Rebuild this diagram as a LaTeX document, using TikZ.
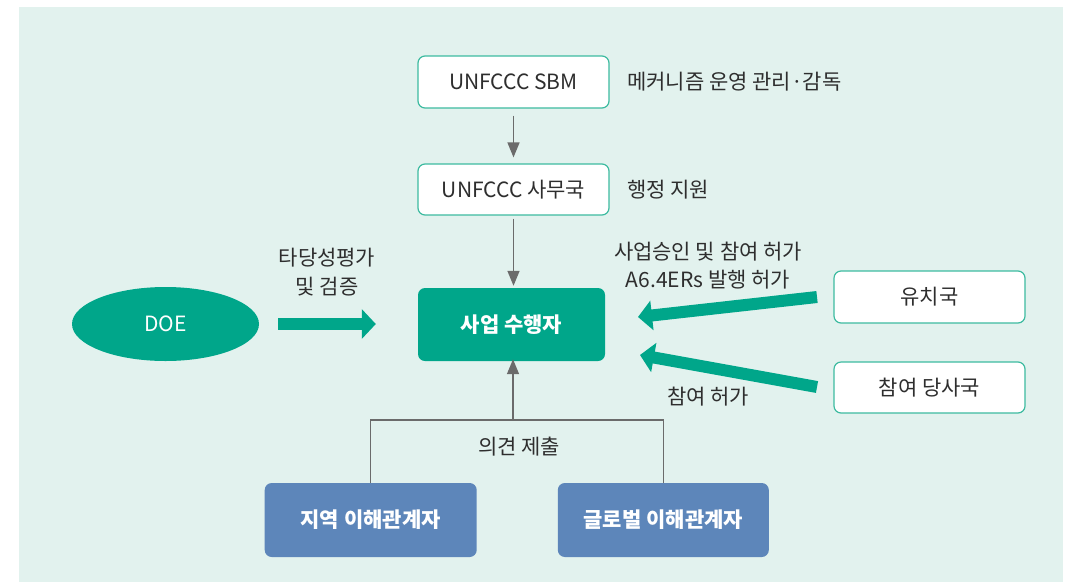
\documentclass[tikz,border=0pt]{standalone}
\usepackage{fontspec}
\setmainfont{Noto Sans CJK KR}
\usetikzlibrary{arrows.meta,shapes.geometric,calc}
\definecolor{bgmint}{HTML}{E2F2EE}
\definecolor{teal}{HTML}{00A68A}
\definecolor{tealline}{HTML}{3DBBA0}
\definecolor{bluebox}{HTML}{5D86BA}
\definecolor{grayline}{HTML}{6B6B6B}
\definecolor{txt}{HTML}{2E2E2E}
\tikzset{
  whitebox/.style={draw=tealline, line width=1.2pt, fill=white, rounded corners=7pt,
    minimum width=191pt, minimum height=52pt, inner sep=0pt, text=txt, font=\fontsize{21}{24}\selectfont},
  greenbox/.style={fill=teal, rounded corners=7pt, minimum width=187pt, minimum height=73pt,
    inner sep=0pt, text=white, font=\fontsize{21}{24}\selectfont\bfseries},
  bluenode/.style={fill=bluebox, rounded corners=7pt, minimum width=211pt, minimum height=74pt,
    inner sep=0pt, text=white, font=\fontsize{21}{24}\selectfont\bfseries},
  doenode/.style={ellipse, fill=teal, minimum width=187pt, minimum height=74pt, inner sep=0pt,
    text=white, font=\fontsize{21}{24}\selectfont},
  lbl/.style={text=txt, font=\fontsize{21}{24}\selectfont, inner sep=0pt},
  thin/.style={draw=grayline, line width=1.5pt, -{Triangle[length=15pt,width=12pt]}},
  plainline/.style={draw=grayline, line width=1.5pt},
  fat/.style={draw=teal, line width=12pt, -{Triangle[length=14pt,width=29pt]}}
}
\begin{document}
\begin{tikzpicture}[x=1pt,y=-1pt]
\useasboundingbox (0,0) rectangle (1073,582);
\fill[bgmint] (18.5,7) rectangle (1063,582);
% nodes
\node[whitebox] (sbm) at (513.5,82) {UNFCCC SBM};
\node[whitebox, minimum height=51pt] (sec) at (513.5,189.5) {UNFCCC 사무국};
\node[greenbox] (perf) at (511.5,324.5) {사업 수행자};
\node[doenode] (doe) at (165.5,324) {DOE};
\node[whitebox] (host) at (929.5,297) {유치국};
\node[whitebox, minimum height=51pt] (party) at (929.5,387.5) {참여 당사국};
\node[bluenode, minimum width=212pt] (local) at (370.7,520) {지역 이해관계자};
\node[bluenode] (global) at (663.3,520) {글로벌 이해관계자};
% labels
\node[lbl, anchor=west] (l1) at (627,82) {메커니즘 운영 관리·감독};
\node[lbl, anchor=west] (l2) at (627,190) {행정 지원};
\node[lbl] (l3a) at (327,258) {타당성평가};
\node[lbl] (l3b) at (327,287) {및 검증};
\node[lbl] (l4a) at (708,252) {사업승인 및 참여 허가};
\node[lbl] (l4b) at (708,280) {A6.4ERs 발행 허가};
\node[lbl] (l5) at (708,397) {참여 허가};
\node[lbl] (l6) at (519,447) {의견 제출};
% thin connectors
\draw[thin, shorten <=7pt, shorten >=6pt] (sbm.south) -- (sec.north);
\draw[thin, shorten <=3pt, shorten >=2pt] (sec.south) -- (sec.south |- perf.north);
\coordinate (j) at (513,420);
\draw[plainline] (local.north) |- (j) -| (global.north);
\draw[thin, shorten >=-2pt] (j) -- (j |- perf.south);
% thick arrows
\coordinate (h1) at (817,297);
\coordinate (h2) at (638,317);
\coordinate (p1) at (817,387);
\coordinate (p2) at (640,355);
\draw[fat, shorten <=19pt, shorten >=42pt] (doe.east) -- (doe.east -| perf.west);
\draw[fat] (h1) -- (h2);
\draw[fat] (p1) -- (p2);
\end{tikzpicture}
\end{document}
